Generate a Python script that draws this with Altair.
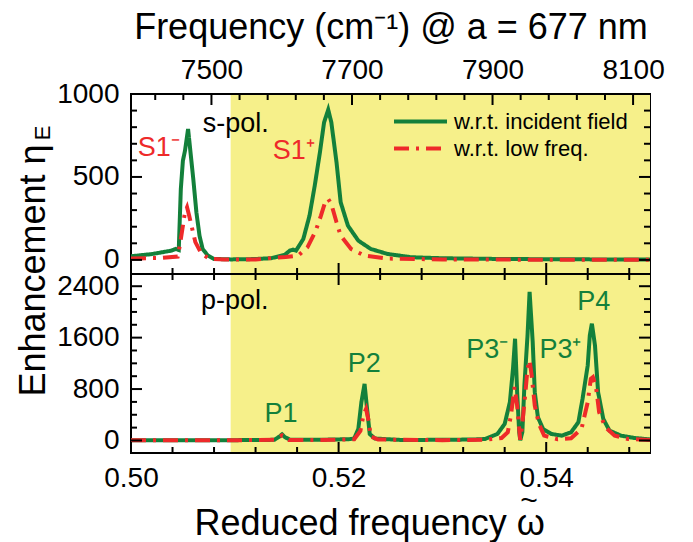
import altair as alt
import pandas as pd

FONT = "Liberation Sans"
A_NM = 677
X_DOMAIN = [0.50, 0.55]
CM_DOMAIN = [w / (A_NM * 1e-7) for w in X_DOMAIN]
TOP_Y = [-85, 1000]
BOT_Y = [-195, 2590]
SHADE = [0.5096, 0.55]
W = 519
H_TOP = 180
H_BOT = 179

GREEN = "#13803B"
RED = "#EE2A2A"
YELLOW = "#F6F08A"
TICK = "black"

SERIES = ["w.r.t. incident field", "w.r.t. low freq."]

# s-pol., w.r.t. incident field
s_inc_x = [0.5000, 0.5020, 0.5039, 0.5043, 0.5046, 0.5048, 0.5050, 0.5052, 0.5055, 0.5057,
           0.5060, 0.5063, 0.5066, 0.5069, 0.5074, 0.5080, 0.5096, 0.5119, 0.5135, 0.5148,
           0.5153, 0.5156, 0.5159, 0.5166, 0.5172, 0.5177, 0.5182, 0.5186, 0.5190, 0.5193,
           0.5198, 0.5202, 0.5209, 0.5219, 0.5231, 0.5247, 0.5270, 0.5300, 0.5350, 0.5400,
           0.5450, 0.5500]
s_inc_y = [22, 35, 56, 66, 60, 427, 598, 658, 789, 668,
           488, 287, 146, 66, 26, 6, 3, 5, 10, 30,
           56, 62, 56, 126, 267, 447, 648, 829, 905, 829,
           588, 347, 206, 116, 66, 36, 16, 10, 6, 4,
           3, 2]
# s-pol., w.r.t. low freq.
s_low_x = [0.5000, 0.5030, 0.5045, 0.5047, 0.5050, 0.5052, 0.5054, 0.5056, 0.5059, 0.5062,
           0.5068, 0.5076, 0.5090, 0.5120, 0.5149, 0.5161, 0.5170, 0.5178, 0.5183, 0.5187,
           0.5190, 0.5193, 0.5198, 0.5202, 0.5212, 0.5225, 0.5247, 0.5300, 0.5400, 0.5500]
s_low_y = [8, 12, 20, 86, 206, 287, 317, 267, 187, 107,
           36, 6, 2, 3, 18, 26, 76, 176, 267, 347,
           367, 337, 227, 146, 66, 26, 8, 3, 1, 1]
# p-pol., w.r.t. incident field
p_inc_x = [0.5000, 0.5050, 0.5100, 0.5130, 0.5138, 0.5143, 0.51455, 0.5148, 0.5153, 0.5180,
           0.5210, 0.5215, 0.5219, 0.5222, 0.5225, 0.5227, 0.5230, 0.5235, 0.5260, 0.5300,
           0.5330, 0.5341, 0.5353, 0.5360, 0.5365, 0.5368, 0.5370, 0.5372, 0.5374, 0.5375,
           0.5377, 0.5379, 0.5382, 0.5384, 0.5387, 0.5389, 0.5392, 0.5397, 0.5405, 0.5415,
           0.5424, 0.5431, 0.5435, 0.5440, 0.5442, 0.5444, 0.5447, 0.5450, 0.5455, 0.5461,
           0.5472, 0.5485, 0.5500]
p_inc_y = [5, 5, 5, 8, 10, 60, 95, 55, 12, 10,
           20, 30, 180, 600, 880, 560, 100, 30, 8, 10,
           15, 23, 101, 257, 596, 1115, 1583, 752, 128, 5,
           128, 855, 1635, 2312, 1532, 752, 362, 179, 101, 75,
           128, 284, 647, 1167, 1635, 1817, 1479, 752, 335, 153,
           75, 39, 16]
# p-pol., w.r.t. low freq.
p_low_x = [0.5000, 0.5100, 0.5138, 0.51455, 0.5152, 0.5180, 0.5215, 0.5221, 0.5224, 0.52265,
           0.5229, 0.5231, 0.5238, 0.5300, 0.5340, 0.5357, 0.5363, 0.5366, 0.53695, 0.5372,
           0.5374, 0.5375, 0.5377, 0.5380, 0.5382, 0.5384, 0.5386, 0.5389, 0.5393, 0.5398,
           0.5411, 0.5424, 0.5434, 0.5440, 0.5443, 0.5445, 0.5448, 0.5451, 0.5457, 0.5466,
           0.5479, 0.5500]
p_low_y = [3, 3, 10, 80, 8, 5, 20, 150, 400, 490,
           300, 60, 15, 5, 10, 39, 128, 387, 830, 543,
           179, 10, 257, 752, 1115, 1245, 1011, 543, 257, 75,
           20, 35, 179, 596, 959, 985, 830, 440, 206, 75,
           23, 8]

# tick values
X_MAJOR = [0.50, 0.52, 0.54]
X_MINOR = [0.504, 0.508, 0.512, 0.516, 0.524, 0.528, 0.532, 0.536, 0.544, 0.548]
CM_MAJOR = [7500, 7700, 7900, 8100]
CM_MINOR = [7420, 7460, 7540, 7580, 7620, 7660, 7740, 7780, 7820, 7860,
            7940, 7980, 8020, 8060]
TOP_Y_MAJOR = [0, 500, 1000]
TOP_Y_MINOR = [100, 200, 300, 400, 600, 700, 800, 900]
BOT_Y_MAJOR = [0, 800, 1600, 2400]
BOT_Y_MINOR = [200, 400, 600, 1000, 1200, 1400, 1800, 2000, 2200]

# annotations
top_black = pd.DataFrame({"w": [0.50691], "e": [769], "t": ["s-pol."]})
top_red = pd.DataFrame({"w": [0.50064, 0.51366], "e": [624, 608], "t": ["S1\u207b", "S1\u207a"]})
bot_black = pd.DataFrame({"w": [0.50675], "e": [2051], "t": ["p-pol."]})
bot_green = pd.DataFrame({"w": [0.51285, 0.52088, 0.53229, 0.53935, 0.54299],
                          "e": [293, 1064, 1282, 1282, 2025],
                          "t": ["P1", "P2", "P3\u207b", "P3\u207a", "P4"]})

MAJ, MIN = 11, 6


def series_df(xa, ya, xb, yb):
    return pd.concat([
        pd.DataFrame({"w": xa, "e": ya, "series": SERIES[0]}),
        pd.DataFrame({"w": xb, "e": yb, "series": SERIES[1]}),
    ], ignore_index=True)


def xticks(vals, domain, height, length, edge, axis=None):
    df = pd.DataFrame({"v": vals})
    yc = height - length / 2 if edge == "bottom" else length / 2
    return alt.Chart(df).mark_tick(color=TICK, orient="vertical", size=length,
                                   thickness=2, opacity=1).encode(
        x=alt.X("v:Q", scale=alt.Scale(domain=domain), axis=axis),
        y=alt.value(yc))


def yticks(vals, domain, width, length, edge):
    df = pd.DataFrame({"v": vals})
    xc = length / 2 if edge == "left" else width - length / 2
    return alt.Chart(df).mark_tick(color=TICK, orient="horizontal", size=length,
                                   thickness=2, opacity=1).encode(
        y=alt.Y("v:Q", scale=alt.Scale(domain=domain), axis=None),
        x=alt.value(xc))


def shade(height):
    df = pd.DataFrame({"a": [SHADE[0]], "b": [SHADE[1]]})
    return alt.Chart(df).mark_rect(color=YELLOW).encode(
        x=alt.X("a:Q", scale=alt.Scale(domain=X_DOMAIN), axis=None),
        x2="b:Q", y=alt.value(1), y2=alt.value(height - 1))


def curves(df, ydomain, xaxis, yaxis, legend):
    return alt.Chart(df).mark_line(strokeWidth=4, clip=True).encode(
        x=alt.X("w:Q", scale=alt.Scale(domain=X_DOMAIN), axis=xaxis),
        y=alt.Y("e:Q", scale=alt.Scale(domain=ydomain), axis=yaxis),
        color=alt.Color("series:N", scale=alt.Scale(domain=SERIES, range=[GREEN, RED]), legend=legend),
        strokeDash=alt.StrokeDash("series:N", scale=alt.Scale(domain=SERIES, range=[[1, 0], [15, 7, 3, 7]]),
                                  legend=legend),
        order=alt.Order("series:N"),
    )


def labels(df, ydomain, color):
    return alt.Chart(df).mark_text(font=FONT, fontSize=27, color=color, align="left",
                                   baseline="alphabetic").encode(
        x=alt.X("w:Q", scale=alt.Scale(domain=X_DOMAIN), axis=None),
        y=alt.Y("e:Q", scale=alt.Scale(domain=ydomain), axis=None),
        text="t:N")


legend = alt.Legend(title=None, orient="none", legendX=261, legendY=14, symbolType="stroke",
                    symbolSize=2809, symbolStrokeWidth=4, labelFontSize=22, labelFont=FONT,
                    labelColor="black", clipHeight=27, rowPadding=0, padding=0, labelOffset=5,
                    labelLimit=400)

top_yaxis = alt.Axis(values=TOP_Y_MAJOR, format="d", title=None, labelFontSize=28, labelPadding=12,
                     tickSize=0, labelFlush=False)
bot_yaxis = alt.Axis(values=BOT_Y_MAJOR, format="d", title="Enhancement \u03b7", labelFontSize=28,
                     labelPadding=12, tickSize=0, labelFlush=False, titleFontSize=36, titleX=-87,
                     titleY=-4, titleBaseline="alphabetic", titleAngle=270, titleAlign="center")
bot_xaxis = alt.Axis(values=X_MAJOR, format=".2f", title="Reduced frequency \u03c9",
                     labelFontSize=28, labelPadding=11, tickSize=0, labelFlush=False,
                     titleFontSize=36, titlePadding=14, titleX=63, titleAlign="left")
cm_axis = alt.Axis(orient="top", values=CM_MAJOR, format="d",
                   title="Frequency (cm\u207b\u00b9) @ a = 677 nm",
                   labelFontSize=28, labelPadding=10, tickSize=0, labelFlush=False,
                   titleFontSize=36, titlePadding=10)

top = alt.layer(
    shade(H_TOP),
    curves(series_df(s_inc_x, s_inc_y, s_low_x, s_low_y), TOP_Y, None, top_yaxis, legend),
    labels(top_black, TOP_Y, "black"),
    labels(top_red, TOP_Y, RED),
    xticks(X_MAJOR, X_DOMAIN, H_TOP, MAJ, "bottom"),
    xticks(X_MINOR, X_DOMAIN, H_TOP, MIN, "bottom"),
    xticks(CM_MAJOR, CM_DOMAIN, H_TOP, MAJ, "top", axis=cm_axis),
    xticks(CM_MINOR, CM_DOMAIN, H_TOP, MIN, "top"),
    yticks(TOP_Y_MAJOR, TOP_Y, W, MAJ, "left"),
    yticks(TOP_Y_MINOR, TOP_Y, W, MIN, "left"),
    yticks(TOP_Y_MAJOR, TOP_Y, W, MAJ, "right"),
    yticks(TOP_Y_MINOR, TOP_Y, W, MIN, "right"),
).resolve_scale(x="independent", y="independent").properties(width=W, height=H_TOP)

sub_e = alt.Chart(pd.DataFrame({"t": ["E"]})).mark_text(
    font=FONT, fontSize=22, angle=270, align="center", baseline="alphabetic", color="black"
).encode(text="t:N", x=alt.value(-81), y=alt.value(-141))

tilde = alt.Chart(pd.DataFrame({"t": ["~"]})).mark_text(
    font=FONT, fontSize=30, align="center", baseline="middle", color="black"
).encode(text="t:N", x=alt.value(398), y=alt.value(227))

bottom = alt.layer(
    shade(H_BOT),
    curves(series_df(p_inc_x, p_inc_y, p_low_x, p_low_y), BOT_Y, bot_xaxis, bot_yaxis, None),
    labels(bot_black, BOT_Y, "black"),
    labels(bot_green, BOT_Y, GREEN),
    xticks(X_MAJOR, X_DOMAIN, H_BOT, MAJ, "bottom"),
    xticks(X_MINOR, X_DOMAIN, H_BOT, MIN, "bottom"),
    xticks(X_MAJOR, X_DOMAIN, H_BOT, MAJ, "top"),
    xticks(X_MINOR, X_DOMAIN, H_BOT, MIN, "top"),
    yticks(BOT_Y_MAJOR, BOT_Y, W, MAJ, "left"),
    yticks(BOT_Y_MINOR, BOT_Y, W, MIN, "left"),
    yticks(BOT_Y_MAJOR, BOT_Y, W, MAJ, "right"),
    yticks(BOT_Y_MINOR, BOT_Y, W, MIN, "right"),
    sub_e,
    tilde,
).resolve_scale(x="independent", y="independent").properties(width=W, height=H_BOT)

chart = alt.vconcat(top, bottom, spacing=0, bounds="flush").resolve_scale(
    x="independent", y="independent", color="independent", strokeDash="independent"
).properties(
    padding={"left": 5, "top": 0, "right": 5, "bottom": 5}
).configure_view(
    stroke="black", strokeWidth=2
).configure_axis(
    labelFont=FONT, titleFont=FONT, labelColor="black", titleColor="black",
    titleFontWeight="normal", grid=False, domain=False, ticks=False
).configure_text(font=FONT)

chart.save("out.html", embed_options={"renderer": "svg", "actions": False})
